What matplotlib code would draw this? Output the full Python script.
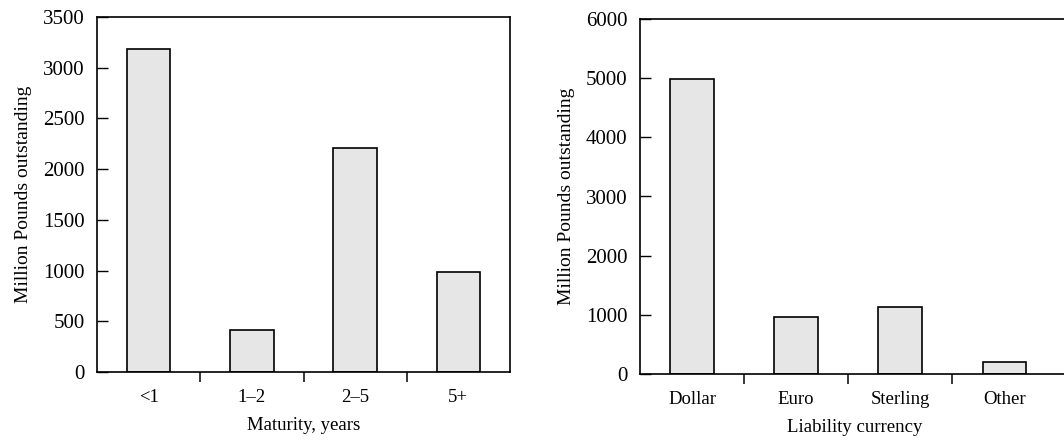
import matplotlib
matplotlib.use("Agg")
import matplotlib.pyplot as plt

# Data
maturity_labels = ["<1", "1\u20132", "2\u20135", "5+"]
maturity_values = [3180, 410, 2210, 990]

currency_labels = ["Dollar", "Euro", "Sterling", "Other"]
currency_values = [4980, 960, 1140, 200]

plt.rcParams["font.family"] = ["Liberation Serif", "DejaVu Serif"]
plt.rcParams["font.size"] = 13.5

BAR_COLOR = "#e6e6e6"


# Draws one bar panel in the book style
def draw_panel(ax, labels, values, xlabel, ymax, ystep, xright):
    x = list(range(len(labels)))
    ax.bar(x, values, width=0.42, color=BAR_COLOR, edgecolor="black", linewidth=1.2)
    ax.set_xlim(-0.5, xright)
    ax.set_ylim(0, ymax)
    ax.set_yticks(range(0, ymax + 1, ystep))
    ax.set_xticks(x)
    ax.set_xticklabels(labels)
    ax.set_xticks([i + 0.5 for i in x[:-1]], minor=True)
    ax.tick_params(axis="x", which="major", length=0, pad=12)
    ax.tick_params(axis="x", which="minor", direction="out", length=7, width=1.1)
    ax.tick_params(axis="y", direction="in", length=8, width=1.0, pad=9, labelsize=15)
    ax.set_xlabel(xlabel, labelpad=8)
    ax.set_ylabel("Million Pounds outstanding", labelpad=8, fontsize=14)
    for s in ax.spines.values():
        s.set_linewidth(1.2)


fig = plt.figure(figsize=(10.64, 4.4), dpi=100)
ax1 = fig.add_axes([97 / 1064, 1 - 372 / 440, 413 / 1064, 355 / 440])
ax2 = fig.add_axes([640 / 1064, 1 - 374 / 440, 430 / 1064, 355 / 440])

draw_panel(ax1, maturity_labels, maturity_values, "Maturity, years", 3500, 500, 3.5)
draw_panel(ax2, currency_labels, currency_values, "Liability currency", 6000, 1000, 3.63)

fig.savefig("out.png", dpi=100)
